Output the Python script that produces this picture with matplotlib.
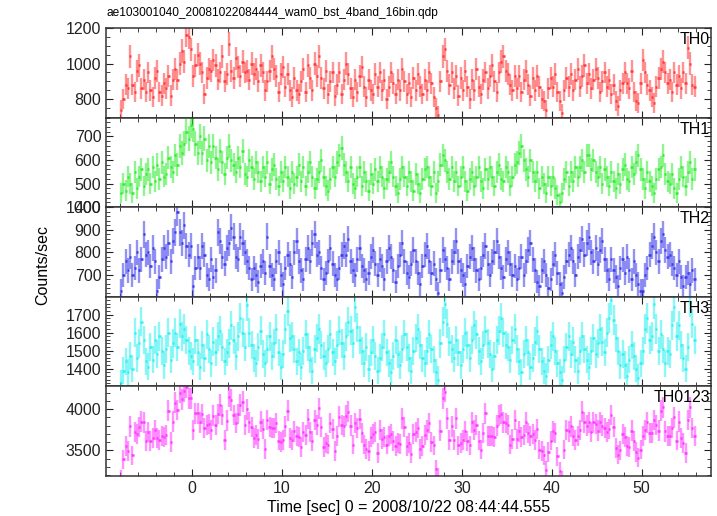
import matplotlib.pyplot as plt
import numpy as np

plt.rcParams['font.family'] = ['Liberation Sans', 'DejaVu Sans']

title = "ae103001040_20081022084444_wam0_bst_4band_16bin.qdp"
xlabel = "Time [sec] 0 = 2008/10/22 08:44:44.555"
names = ['TH0', 'TH1', 'TH2', 'TH3', 'TH0123']
colors = ['#ff3b3b', '#33ee33', '#3b3bea', '#2ef2f2', '#ff3bff']

t_start = -8.0
bin_w = 0.25

# counts/sec in 0.25 s bins, one row = 4 seconds
th0 = [
    740, 800, 880, 860, 1040, 880, 840, 960, 990, 860, 910, 840, 950, 850, 810, 920,
    960, 840, 820, 890, 860, 930, 820, 910, 970, 910, 1000, 1070, 1010, 1160, 1150, 1080,
    930, 990, 1050, 1000, 950, 830, 920, 970, 960, 1020, 990, 910, 950, 1040, 900, 940,
    1110, 960, 920, 1030, 980, 930, 1010, 950, 960, 910, 1000, 940, 970, 900, 990, 950,
    850, 900, 960, 1040, 970, 930, 840, 940, 980, 870, 940, 850, 810, 920, 850, 830,
    900, 970, 840, 990, 920, 850, 1000, 930, 1040, 920, 860, 960, 830, 900, 950, 820,
    880, 950, 830, 910, 1000, 940, 860, 810, 910, 840, 930, 980, 870, 810, 910, 850,
    830, 940, 870, 950, 850, 910, 800, 870, 950, 890, 830, 910, 850, 970, 900, 830,
    890, 810, 920, 850, 940, 870, 830, 910, 850, 950, 890, 810, 750, 710, 900, 1040,
    1080, 960, 880, 950, 860, 930, 820, 920, 850, 960, 870, 800, 910, 850, 970, 870,
    830, 910, 950, 860, 930, 990, 900, 840, 950, 1010, 1040, 960, 940, 880, 850, 930,
    860, 930, 840, 910, 960, 880, 820, 920, 850, 930, 870, 800, 790, 740, 860, 920,
    870, 940, 840, 790, 720, 850, 920, 870, 940, 850, 910, 970, 870, 930, 990, 890,
    940, 860, 910, 970, 920, 840, 900, 950, 870, 910, 830, 880, 790, 760, 850, 890,
    950, 890, 860, 960, 840, 790, 780, 890, 1020, 950, 880, 850, 810, 780, 870, 920,
    970, 1010, 950, 890, 910, 840, 950, 880, 930, 860, 950, 890, 1090, 1000, 880, 870,
]

th1 = [
    460, 500, 470, 530, 500, 460, 550, 480, 530, 560, 490, 540, 560, 500, 570, 510,
    580, 520, 590, 530, 540, 610, 570, 550, 620, 580, 660, 630, 670, 720, 690, 750,
    730, 670, 630, 700, 630, 690, 600, 660, 590, 660, 610, 560, 640, 590, 540, 610,
    660, 600, 580, 550, 610, 570, 640, 540, 530, 600, 570, 520, 590, 550, 510, 570,
    530, 590, 500, 560, 580, 520, 490, 550, 510, 570, 530, 480, 550, 500, 530, 580,
    510, 570, 490, 550, 590, 530, 480, 520, 550, 600, 530, 490, 470, 520, 570, 530,
    590, 620, 650, 580, 550, 510, 570, 500, 480, 530, 570, 490, 550, 510, 470, 540,
    500, 560, 510, 570, 530, 480, 520, 550, 590, 530, 490, 460, 520, 570, 530, 490,
    550, 510, 470, 540, 500, 460, 520, 560, 570, 530, 490, 550, 460, 510, 580, 620,
    600, 550, 520, 570, 510, 550, 490, 530, 570, 510, 470, 520, 550, 490, 530, 570,
    510, 480, 560, 520, 570, 530, 490, 550, 580, 520, 510, 570, 550, 490, 530, 580,
    590, 630, 660, 600, 560, 530, 600, 550, 510, 550, 480, 530, 500, 460, 530, 490,
    530, 480, 450, 420, 460, 520, 550, 490, 550, 510, 570, 530, 570, 600, 550, 620,
    620, 560, 600, 550, 530, 570, 500, 560, 530, 490, 550, 510, 480, 540, 500, 560,
    580, 520, 510, 570, 540, 590, 620, 560, 520, 480, 550, 510, 490, 460, 520, 560,
    570, 620, 540, 510, 500, 540, 480, 460, 520, 570, 530, 490, 550, 590, 520, 560,
]

th2 = [
    630, 700, 760, 720, 780, 700, 730, 800, 720, 770, 880, 790, 800, 740, 820, 760,
    630, 690, 770, 820, 780, 840, 760, 850, 890, 980, 890, 840, 920, 830, 790, 830,
    650, 730, 780, 730, 830, 790, 700, 680, 770, 690, 720, 890, 850, 780, 750, 820,
    840, 910, 870, 780, 770, 870, 840, 800, 760, 730, 680, 730, 700, 670, 740, 760,
    710, 870, 740, 700, 680, 760, 800, 700, 660, 730, 790, 750, 690, 800, 850, 760,
    720, 680, 770, 820, 760, 840, 880, 790, 800, 730, 680, 710, 760, 820, 750, 700,
    680, 730, 790, 830, 790, 860, 760, 720, 700, 770, 820, 740, 720, 680, 710, 780,
    810, 750, 700, 770, 740, 680, 760, 820, 780, 720, 670, 740, 790, 840, 760, 710,
    690, 750, 810, 760, 710, 660, 740, 790, 830, 760, 710, 750, 680, 620, 720, 810,
    770, 730, 680, 760, 800, 850, 760, 720, 700, 660, 740, 780, 820, 770, 720, 680,
    730, 790, 830, 750, 700, 760, 800, 850, 780, 730, 690, 770, 800, 750, 700, 740,
    680, 730, 780, 700, 760, 810, 840, 770, 720, 670, 650, 720, 760, 700, 640, 680,
    750, 790, 710, 660, 620, 690, 760, 790, 820, 760, 700, 780, 810, 860, 790, 840,
    870, 800, 760, 820, 750, 810, 850, 770, 720, 680, 770, 720, 690, 650, 730, 770,
    710, 780, 720, 680, 760, 700, 660, 630, 630, 700, 730, 790, 830, 870, 800, 760,
    850, 880, 810, 780, 790, 750, 730, 700, 760, 690, 650, 690, 710, 660, 720, 680,
]

th3 = [
    1320, 1390, 1440, 1380, 1470, 1400, 1600, 1460, 1540, 1660, 1560, 1440, 1410, 1520, 1450, 1560,
    1480, 1580, 1500, 1420, 1510, 1600, 1450, 1540, 1600, 1520, 1650, 1580, 1620, 1560, 1500, 1470,
    1440, 1560, 1490, 1410, 1530, 1460, 1590, 1510, 1430, 1550, 1490, 1580, 1610, 1520, 1440, 1490,
    1540, 1640, 1560, 1470, 1580, 1680, 1600, 1520, 1750, 1600, 1530, 1460, 1430, 1520, 1610, 1480,
    1430, 1510, 1580, 1470, 1540, 1620, 1490, 1410, 1480, 1620, 1720, 1570, 1580, 1510, 1440, 1490,
    1410, 1500, 1590, 1520, 1450, 1390, 1510, 1570, 1620, 1530, 1470, 1430, 1510, 1590, 1490, 1440,
    1530, 1610, 1540, 1470, 1580, 1660, 1610, 1540, 1740, 1630, 1560, 1500, 1430, 1520, 1400, 1490,
    1560, 1470, 1390, 1460, 1520, 1590, 1490, 1430, 1380, 1470, 1560, 1480, 1420, 1510, 1590, 1520,
    1460, 1390, 1500, 1570, 1620, 1530, 1460, 1430, 1500, 1590, 1510, 1450, 1380, 1340, 1540, 1660,
    1760, 1650, 1550, 1510, 1460, 1560, 1490, 1420, 1510, 1600, 1530, 1460, 1560, 1640, 1590, 1500,
    1440, 1530, 1610, 1540, 1480, 1400, 1470, 1560, 1610, 1680, 1600, 1530, 1520, 1450, 1560, 1620,
    1510, 1440, 1380, 1480, 1560, 1490, 1410, 1460, 1550, 1610, 1510, 1440, 1390, 1360, 1450, 1530,
    1580, 1500, 1430, 1380, 1340, 1450, 1520, 1580, 1480, 1550, 1450, 1390, 1500, 1580, 1510, 1450,
    1410, 1500, 1570, 1480, 1540, 1620, 1550, 1490, 1600, 1680, 1780, 1670, 1570, 1500, 1420, 1480,
    1420, 1360, 1450, 1530, 1470, 1400, 1350, 1430, 1500, 1620, 1680, 1560, 1580, 1760, 1620, 1500,
    1590, 1510, 1430, 1500, 1480, 1640, 1740, 1580, 1640, 1530, 1460, 1400, 1520, 1770, 1650, 1560,
]

# the total band is the sum of the four channels
th0123 = list(np.array(th0) + np.array(th1) + np.array(th2) + np.array(th3))

series = [th0, th1, th2, th3, th0123]
ylims = [(696, 1200), (400, 780), (603, 1000), (1302, 1798), (3190, 4275)]
ymajor = [200, 100, 100, 100, 500]
yminor = [50, 20, 20, 20, 100]

fig, axes = plt.subplots(5, 1, sharex=True, figsize=(7.17, 5.16), dpi=100)
plt.subplots_adjust(left=0.148, right=0.9916, top=0.9457, bottom=0.0775, hspace=0)

for ax, name, col, vals, yl, mj, mn in zip(axes, names, colors, series, ylims, ymajor, yminor):
    y = np.array(vals, dtype=float)
    t = t_start + bin_w / 2 + bin_w * np.arange(len(y))
    err = np.sqrt(y / bin_w)
    ax.vlines(t, y - err, y + err, color=col, alpha=0.55, lw=1.7)
    ax.hlines(y, t - bin_w / 2, t + bin_w / 2, color=col, lw=1.8)
    ax.set_ylim(*yl)
    ax.yaxis.set_major_locator(plt.MultipleLocator(mj))
    ax.yaxis.set_minor_locator(plt.MultipleLocator(mn))
    ax.xaxis.set_major_locator(plt.MultipleLocator(10))
    ax.xaxis.set_minor_locator(plt.MultipleLocator(2))
    ax.tick_params(which='both', direction='in', top=True, right=True, labelsize=11.5, colors='#222222')
    ax.tick_params(which='major', length=5)
    ax.tick_params(which='minor', length=3)
    for s in ax.spines.values():
        s.set_linewidth(1.1)
        s.set_color('#333333')
    ax.text(0.998, 0.955, name, transform=ax.transAxes, ha='right', va='top', fontsize=11.5)

axes[-1].set_xlim(-9.55, 57.7)
axes[-1].set_xlabel(xlabel, fontsize=11.5, labelpad=3)
fig.text(0.06, 0.487, 'Counts/sec', rotation=90, ha='center', va='center', fontsize=11.5)
fig.text(0.148, 0.975, title, ha='left', va='center', fontsize=8.6)

plt.savefig('out.png')
